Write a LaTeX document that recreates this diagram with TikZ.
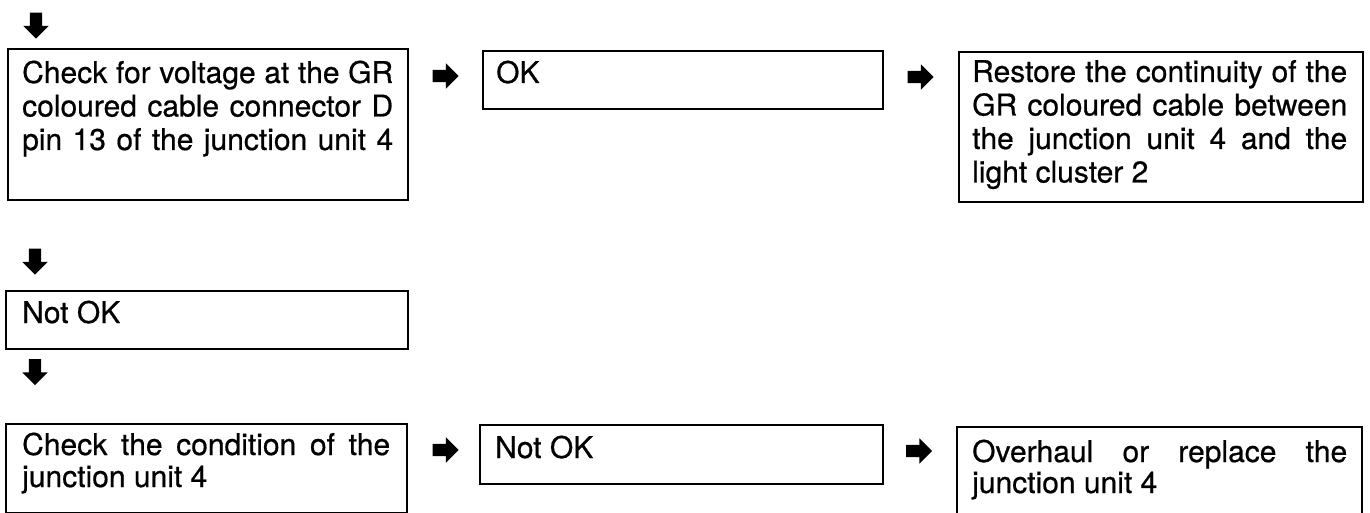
\documentclass[tikz,border=0pt]{standalone}
\usepackage{fontspec}
\setmainfont{TeX Gyre Heros}[FakeBold=0.6]
\usetikzlibrary{shapes.arrows}
\begin{document}
\begin{tikzpicture}[x=1pt,y=-1pt,
  box/.style={draw=black, line width=1.8pt, inner sep=0pt, anchor=north west},
  txt/.style={anchor=base west, inner sep=0pt, font=\fontsize{30}{33.5}\selectfont},
  blockarrow/.style={single arrow, fill=black, draw=none, inner sep=0pt,
    text height=6pt, text depth=6pt, text width=0pt,
    minimum height=26pt, single arrow head extend=6.5pt, single arrow tip angle=90},
  downarrow/.style={blockarrow, rotate=-90},
  fwdarrow/.style={blockarrow}]
\useasboundingbox (0,0) rectangle (1370,513);
\clip (0,0) rectangle (1370,513);
% boxes
\node[box, minimum width=400pt, minimum height=151pt] (b1) at (7,48) {};
\node[box, minimum width=400pt, minimum height=58pt] (b2) at (482,50) {};
\node[box, minimum width=404pt, minimum height=150pt] (b3) at (958,51) {};
\node[box, minimum width=402pt, minimum height=58pt] (b4) at (5,290) {};
\node[box, minimum width=401pt, minimum height=89pt] (b5) at (5,423) {};
\node[box, minimum width=403pt, minimum height=59pt] (b6) at (479,424) {};
\node[box, minimum width=405pt, minimum height=120pt] (b7) at (956,426) {};
% texts
\node[txt] (t1) at (22,83) {\parbox[t]{371pt}{%
  \makebox[\linewidth][s]{Check for voltage at the GR}\par
  \makebox[\linewidth][s]{coloured cable connector D}\par
  \makebox[\linewidth][s]{pin 13 of the junction unit 4}}};
\node[txt] (t2) at (496,83) {OK};
\node[txt] (t3) at (972,82) {\parbox[t]{375pt}{%
  \makebox[\linewidth][s]{Restore the continuity of the}\par
  \makebox[\linewidth][s]{GR coloured cable between}\par
  \makebox[\linewidth][s]{the junction unit 4 and the}\par
  light cluster 2}};
\node[txt] (t4) at (22,323) {Not OK};
\node[txt] (t5) at (22,455) {\parbox[t]{368pt}{\fontsize{30}{32}\selectfont
  \makebox[\linewidth][s]{Check the condition of the}\par
  junction unit 4}};
\node[txt] (t6) at (495,458) {Not OK};
\node[txt] (t7) at (972,462) {\parbox[t]{375pt}{\fontsize{30}{31}\selectfont
  \makebox[\linewidth][s]{Overhaul or replace the}\par
  junction unit 4}};
% block arrows
\node[downarrow] (a0) at (36,22.5) {};
\node[fwdarrow] (r1) at (442.5,76) {};
\node[fwdarrow] (r2) at (917.5,77) {};
\node[downarrow] (a1) at (35,258.5) {};
\node[downarrow] (a2) at (35,369) {};
\node[fwdarrow] (r3) at (442.5,450) {};
\node[fwdarrow] (r4) at (916,451) {};
\end{tikzpicture}
\end{document}
